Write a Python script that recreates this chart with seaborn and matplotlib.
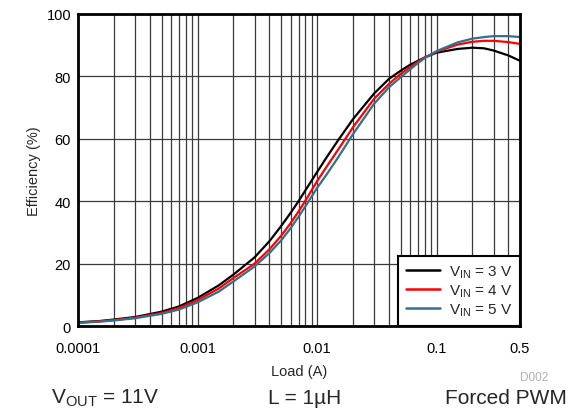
import numpy as np
import pandas as pd
import matplotlib
matplotlib.use("Agg")
import matplotlib.pyplot as plt
import seaborn as sns

# ---- data ----
load_a = [1e-4, 1.5e-4, 2e-4, 3e-4, 5e-4, 7e-4, 1e-3, 1.5e-3, 2e-3, 3e-3,
          4e-3, 5e-3, 6e-3, 7e-3, 8e-3, 1e-2, 1.2e-2, 1.5e-2, 2e-2, 3e-2,
          4e-2, 5e-2, 6e-2, 7e-2, 8e-2, 0.1, 0.15, 0.2, 0.25, 0.3, 0.4, 0.5]
eff_3v = [1.2, 1.6, 2.1, 2.9, 4.6, 6.3, 9.0, 13.0, 16.5, 22.0,
          27.2, 32.0, 36.2, 40.0, 43.5, 49.3, 54.0, 59.5, 66.3, 74.5,
          79.2, 81.8, 83.7, 85.0, 86.1, 87.6, 88.8, 89.2, 89.0, 88.3, 86.7, 85.0]
eff_4v = [1.1, 1.5, 1.9, 2.7, 4.2, 5.8, 8.3, 12.0, 15.4, 20.0,
          24.6, 28.9, 32.9, 36.7, 40.2, 46.4, 51.0, 56.5, 63.7, 72.8,
          77.6, 80.8, 82.9, 84.7, 86.1, 87.9, 90.2, 91.1, 91.4, 91.4, 91.0, 90.4]
eff_5v = [1.0, 1.4, 1.8, 2.5, 3.9, 5.3, 7.6, 11.0, 14.3, 19.1,
          23.4, 27.4, 31.3, 35.0, 38.4, 44.2, 48.5, 54.0, 61.5, 71.2,
          76.5, 79.7, 82.2, 84.3, 85.9, 88.1, 90.9, 92.1, 92.6, 92.9, 92.9, 92.6]
series_labels = [r"V$_{\mathregular{IN}}$ = 3 V",
                 r"V$_{\mathregular{IN}}$ = 4 V",
                 r"V$_{\mathregular{IN}}$ = 5 V"]
series_colors = ["#000000", "#ff0000", "#33708f"]
x_ticks = [0.0001, 0.001, 0.01, 0.1, 0.5]
x_tick_labels = ["0.0001", "0.001", "0.01", "0.1", "0.5"]
y_ticks = [0, 20, 40, 60, 80, 100]

df = pd.DataFrame({
    "Load": load_a * 3,
    "Eff": eff_3v + eff_4v + eff_5v,
    "Series": [series_labels[0]] * len(load_a) + [series_labels[1]] * len(load_a)
              + [series_labels[2]] * len(load_a),
})

sns.set_style("white")
plt.rcParams["font.family"] = ["Liberation Sans", "DejaVu Sans"]
plt.rcParams["mathtext.fontset"] = "custom"
plt.rcParams["mathtext.rm"] = "Liberation Sans"

fig = plt.figure(figsize=(5.74, 4.14), dpi=100)
ax = fig.add_axes([0.1359, 0.21, 0.7701, 0.7538])

ax.set_xscale("log")
ax.set_xlim(1e-4, 0.5)
ax.set_ylim(0, 100)

# grid
ax.set_xticks(x_ticks)
ax.set_xticklabels(x_tick_labels)
ax.set_yticks(y_ticks)
ax.xaxis.set_minor_locator(matplotlib.ticker.LogLocator(base=10, subs=np.arange(2, 10)))
ax.xaxis.set_minor_formatter(matplotlib.ticker.NullFormatter())
ax.grid(True, which="both", axis="x", color="#3a3a3a", lw=0.9)
ax.grid(True, which="major", axis="y", color="#3a3a3a", lw=0.9)
ax.set_axisbelow(True)

sns.lineplot(data=df, x="Load", y="Eff", hue="Series", palette=series_colors,
             hue_order=series_labels, lw=1.6, ax=ax, legend=True)

ax.tick_params(which="both", length=0, labelsize=10.5, colors="black")
ax.tick_params(axis="x", pad=11)
ax.tick_params(axis="y", pad=5)
for s in ax.spines.values():
    s.set_visible(True)
    s.set_color("black")
    s.set_linewidth(2)

ax.set_xlabel("Load (A)", fontsize=10.5, labelpad=6)
ax.set_ylabel("Efficiency (%)", fontsize=10.5, labelpad=4)

leg = ax.legend(loc="lower right", fontsize=11, frameon=True, fancybox=False,
                borderaxespad=0, handlelength=2.2, handletextpad=0.6,
                labelspacing=0.15, borderpad=0.5)
leg.get_frame().set_edgecolor("black")
leg.get_frame().set_linewidth(1.5)
leg.get_frame().set_alpha(1)
for h in leg.get_lines():
    h.set_linewidth(1.8)

fig.text(0.955, 0.087, "D002", fontsize=8.5, color="#b0b0b0", ha="right", va="center")
fig.text(0.088, 0.038, r"V$_{\mathregular{OUT}}$ = 11V", fontsize=15, ha="left", va="center")
fig.text(0.53, 0.038, "L = 1µH", fontsize=15, ha="center", va="center")
fig.text(0.987, 0.038, "Forced PWM", fontsize=15, ha="right", va="center")

fig.savefig("out.png", dpi=100)
